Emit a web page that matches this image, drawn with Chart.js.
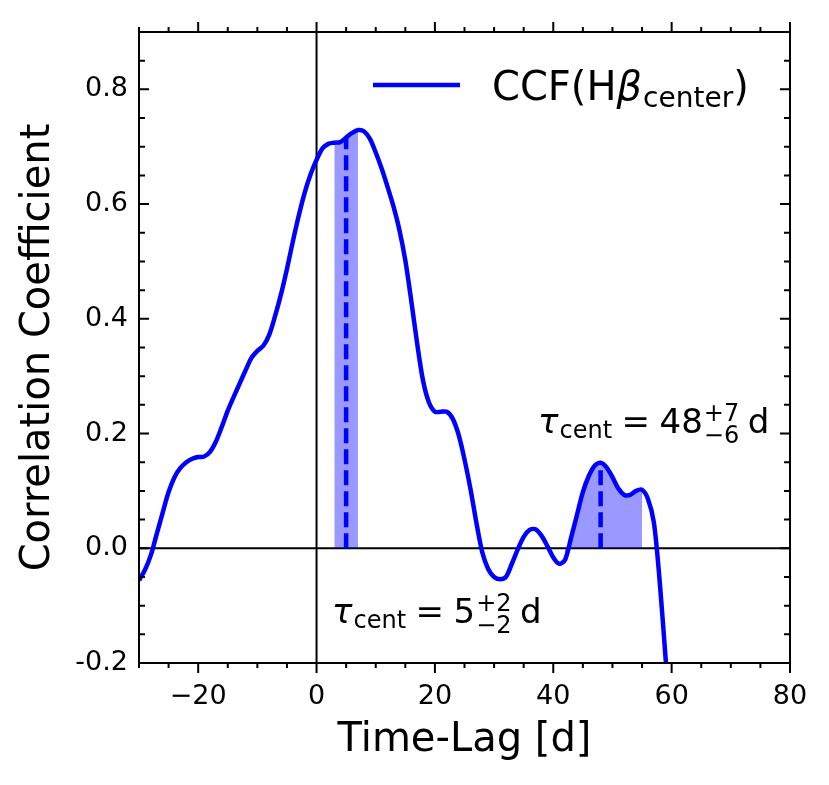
<!DOCTYPE html>
<html lang="en">

<head>
  <meta charset="UTF-8">
  <title>CCF(Hβ center)</title>
  <script src="https://cdn.jsdelivr.net/npm/chart.js"></script>
  <style>
    body { margin: 0; background: #fff; }
  </style>
</head>

<body>
  <canvas id="ccfChart" width="829" height="785"></canvas>

  <script>
    // time lag [d] and correlation coefficient
    const lags = [-30, -29, -28, -27, -26, -25, -24, -23, -22, -21, -20, -19, -18, -17, -16, -15, -14, -13, -12, -11,
      -10, -9, -8, -7, -6, -5, -4, -3, -2, -1, 0, 1, 2, 3, 4, 5, 6, 7, 8, 9,
      10, 11, 12, 13, 14, 15, 16, 17, 18, 19, 20, 21, 22, 23, 24, 25, 26, 27, 28, 29,
      30, 31, 32, 33, 34, 35, 36, 37, 38, 39, 40, 41, 42, 43, 44, 45, 46, 47, 48, 49,
      50, 51, 52, 53, 54, 55, 56, 57, 58, 59, 60];
    const ccf = [-0.056, -0.038, -0.012, 0.025, 0.062, 0.098, 0.124, 0.140, 0.150, 0.156, 0.159, 0.160, 0.168, 0.186, 0.212, 0.240, 0.264, 0.287, 0.310, 0.332,
      0.344, 0.353, 0.372, 0.405, 0.443, 0.487, 0.535, 0.580, 0.620, 0.652, 0.677, 0.697, 0.705, 0.707, 0.708, 0.716, 0.724, 0.729, 0.727, 0.714,
      0.690, 0.662, 0.630, 0.596, 0.555, 0.502, 0.432, 0.357, 0.292, 0.254, 0.238, 0.238, 0.238, 0.226, 0.198, 0.155, 0.104, 0.045, -0.007, -0.036,
      -0.050, -0.054, -0.050, -0.027, -0.002, 0.020, 0.032, 0.033, 0.022, 0.004, -0.016, -0.027, -0.020, 0.018, 0.058, 0.098, 0.126, 0.144, 0.149, 0.141,
      0.124, 0.104, 0.093, 0.093, 0.100, 0.102, 0.086, 0.045, -0.060, -0.195, -0.330];

    // centroid lags and their uncertainty ranges
    const centroids = [5, 48];
    const errPlus = ['+2', '+7'];
    const errMinus = ['−2', '−6'];
    const bands = [[3, 7], [42, 55]];

    const xTicks = [-20, 0, 20, 40, 60, 80];
    const xTickLabels = ['−20', '0', '20', '40', '60', '80'];
    const yTicks = [-0.2, 0, 0.2, 0.4, 0.6, 0.8];
    const yTickLabels = ['-0.2', '0.0', '0.2', '0.4', '0.6', '0.8'];

    const FONT = 'DejaVu Sans';
    const BLUE = '#0000ff';

    function segment(from, to) {
      return lags.map((x, i) => ({ x: x, y: ccf[i] })).filter(p => p.x >= from && p.x <= to);
    }

    // tau_cent = value ^{+a}_{-b} d, drawn piece by piece
    function drawTau(ctx, x, y, size, value, plus, minus) {
      const small = Math.round(size * 0.7);
      ctx.font = `italic ${size}px ${FONT}`;
      ctx.fillText('τ', x, y);
      x += ctx.measureText('τ').width + 1;
      ctx.font = `${small}px ${FONT}`;
      ctx.fillText('cent', x, y + size * 0.15);
      x += ctx.measureText('cent').width + size * 0.28;
      ctx.font = `${size}px ${FONT}`;
      ctx.fillText('=', x, y);
      x += ctx.measureText('=').width + size * 0.28;
      ctx.fillText(value, x, y);
      x += ctx.measureText(value).width + 1;
      ctx.font = `${small}px ${FONT}`;
      ctx.fillText(plus, x, y - size * 0.36);
      ctx.fillText(minus, x, y + size * 0.29);
      x += Math.max(ctx.measureText(plus).width, ctx.measureText(minus).width) + size * 0.25;
      ctx.font = `${size}px ${FONT}`;
      ctx.fillText('d', x, y);
    }

    const axesFrame = {
      id: 'axesFrame',
      beforeDatasetsDraw(chart) {
        const { ctx, chartArea: a, scales: { x, y } } = chart;
        ctx.save();
        ctx.strokeStyle = '#000';
        ctx.lineWidth = 2;
        ctx.beginPath();
        ctx.moveTo(a.left, y.getPixelForValue(0));
        ctx.lineTo(a.right, y.getPixelForValue(0));
        ctx.moveTo(x.getPixelForValue(0), a.top);
        ctx.lineTo(x.getPixelForValue(0), a.bottom);
        ctx.stroke();
        ctx.restore();
      },
      afterDraw(chart) {
        const { ctx, chartArea: a, scales: { x, y } } = chart;
        ctx.save();
        ctx.strokeStyle = '#000';
        ctx.lineWidth = 2;
        ctx.strokeRect(a.left, a.top, a.right - a.left, a.bottom - a.top);

        ctx.beginPath();
        // x ticks point outwards, top and bottom
        for (let v = -30; v <= 80; v += 5) {
          const px = x.getPixelForValue(v);
          const len = v % 20 === 0 ? 10 : 5;
          ctx.moveTo(px, a.bottom); ctx.lineTo(px, a.bottom + len);
          ctx.moveTo(px, a.top); ctx.lineTo(px, a.top - len);
        }
        // y ticks point inwards, left and right
        for (let i = -4; i <= 18; i++) {
          const py = y.getPixelForValue(i * 0.05);
          const len = i % 4 === 0 ? 10 : 6;
          ctx.moveTo(a.left, py); ctx.lineTo(a.left + len, py);
          ctx.moveTo(a.right, py); ctx.lineTo(a.right - len, py);
        }
        ctx.stroke();

        // legend
        ctx.strokeStyle = BLUE;
        ctx.lineWidth = 4.5;
        ctx.beginPath();
        ctx.moveTo(373, 85);
        ctx.lineTo(460, 85);
        ctx.stroke();

        ctx.fillStyle = '#000';
        ctx.textBaseline = 'alphabetic';
        ctx.textAlign = 'left';
        let lx = 492;
        ctx.font = `40px ${FONT}`;
        ctx.fillText('CCF(H', lx, 100);
        lx += ctx.measureText('CCF(H').width;
        ctx.font = `italic 40px ${FONT}`;
        ctx.fillText('β', lx, 100);
        lx += ctx.measureText('β').width + 1;
        ctx.font = `28px ${FONT}`;
        ctx.fillText('center', lx, 107);
        lx += ctx.measureText('center').width;
        ctx.font = `40px ${FONT}`;
        ctx.fillText(')', lx, 100);

        // centroid annotations
        drawTau(ctx, 332, 623, 34, String(centroids[0]), errPlus[0], errMinus[0]);
        drawTau(ctx, 538, 433, 34, String(centroids[1]), errPlus[1], errMinus[1]);
        ctx.restore();
      }
    };

    const datasets = [{
      label: 'CCF(Hβ center)',
      data: lags.map((x, i) => ({ x: x, y: ccf[i] })),
      borderColor: BLUE,
      borderWidth: 4.5,
      pointRadius: 0,
      tension: 0.3,
      fill: false,
      clip: 0
    }];

    centroids.forEach(c => {
      datasets.push({
        data: [{ x: c, y: 0 }, { x: c, y: ccf[lags.indexOf(c)] }],
        borderColor: BLUE,
        borderWidth: 4.5,
        borderDash: [15, 6],
        pointRadius: 0,
        tension: 0,
        fill: false
      });
    });

    bands.forEach(b => {
      datasets.push({
        data: segment(b[0], b[1]),
        borderColor: 'rgba(0, 0, 255, 0.4)',
        borderWidth: 1,
        backgroundColor: 'rgba(0, 0, 255, 0.4)',
        pointRadius: 0,
        tension: 0.3,
        fill: 'origin'
      });
    });

    new Chart(document.getElementById('ccfChart'), {
      type: 'line',
      data: { datasets: datasets },
      options: {
        responsive: false,
        animation: false,
        layout: { padding: { left: 0, top: 32, right: 39, bottom: 0 } },
        plugins: {
          legend: { display: false },
          tooltip: { enabled: false }
        },
        scales: {
          x: {
            type: 'linear',
            min: -30,
            max: 80,
            grid: { display: false, drawTicks: false },
            border: { display: false },
            afterBuildTicks: scale => { scale.ticks = xTicks.map(v => ({ value: v })); },
            afterFit: scale => { scale.height = 122; },
            ticks: {
              padding: 18,
              color: '#000',
              font: { family: FONT, size: 27 },
              callback: (value, index) => xTickLabels[index]
            },
            title: {
              display: true,
              text: 'Time-Lag [d]',
              color: '#000',
              font: { family: FONT, size: 40 },
              padding: { top: 0, bottom: 20 }
            }
          },
          y: {
            min: -0.2,
            max: 0.9,
            grid: { display: false, drawTicks: false },
            border: { display: false },
            afterBuildTicks: scale => { scale.ticks = yTicks.map(v => ({ value: v })); },
            afterFit: scale => { scale.width = 139; },
            ticks: {
              padding: 11,
              color: '#000',
              font: { family: FONT, size: 27 },
              callback: (value, index) => yTickLabels[index]
            },
            title: {
              display: true,
              text: 'Correlation Coefficient',
              color: '#000',
              font: { family: FONT, size: 40 },
              padding: { top: 15, bottom: 0 }
            }
          }
        }
      },
      plugins: [axesFrame]
    });
  </script>
</body>

</html>
